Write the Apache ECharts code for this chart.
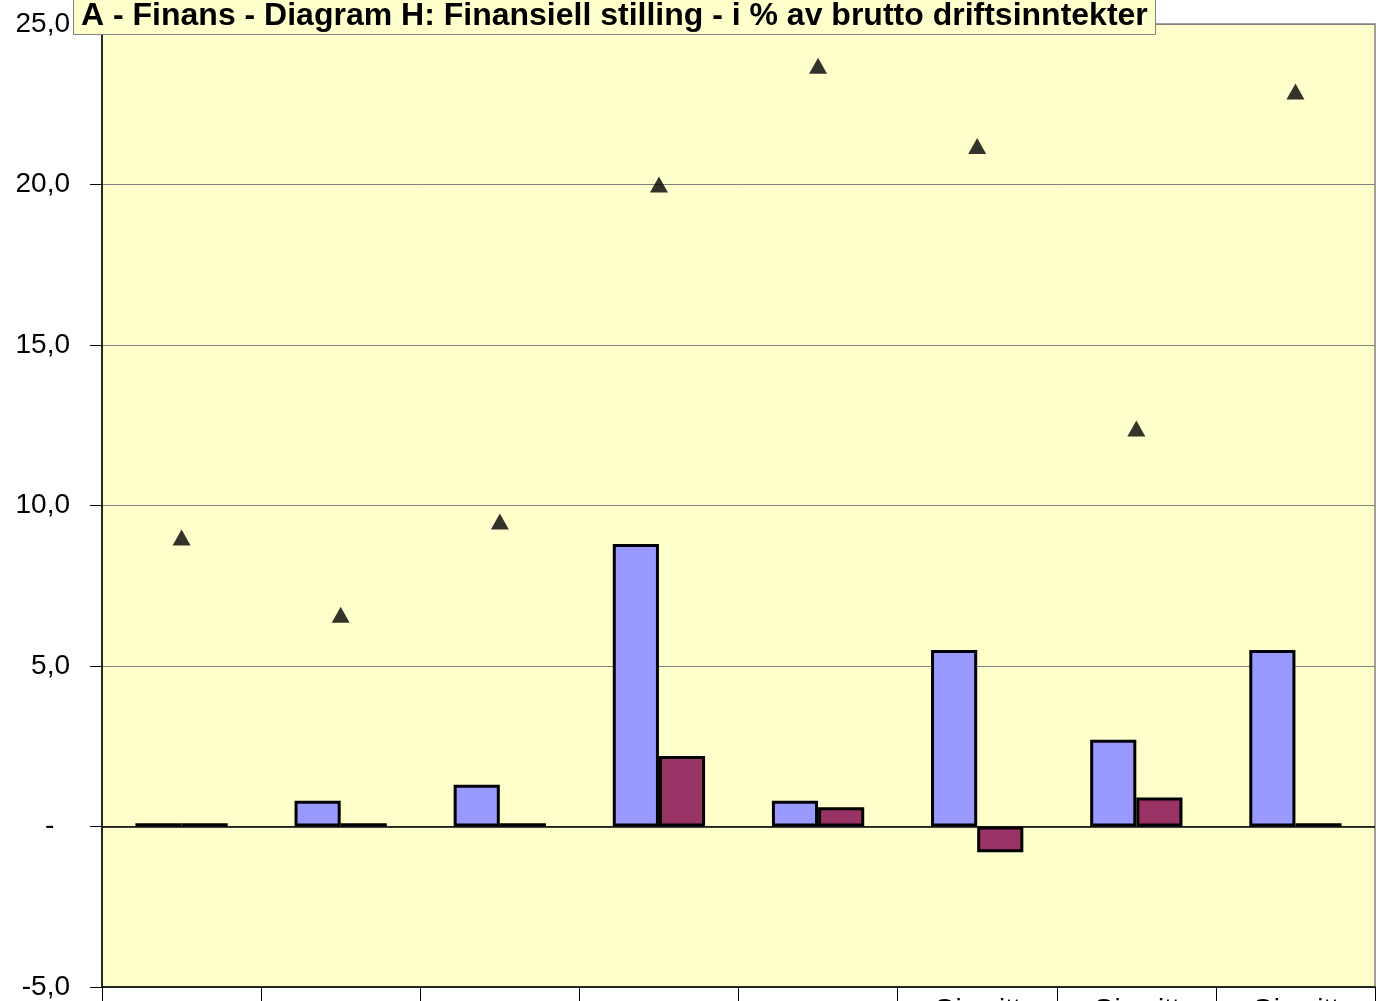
<!DOCTYPE html>
<html>
<head>
<meta charset="utf-8">
<style>
	html, body { margin: 0; padding: 0; background: #fff; }
	#chart { width: 1376px; height: 1001px; }
</style>
<script src="https://cdn.jsdelivr.net/npm/echarts@6/dist/echarts.min.js"></script>
</head>
<body>
<div id="chart"></div>
<script>
	// kategorier (bare de tre siste har synlig tekst nederst)
	const categories = ['', '', '', '', '', 'Gj.snitt', 'Gj.snitt', 'Gj.snitt'];
	const blueBars = [0.1, 0.8, 1.3, 8.8, 0.8, 5.5, 2.7, 5.5];
	const redBars = [0.1, 0.1, 0.1, 2.2, 0.6, -0.8, 0.9, 0.1];
	const triangles = [9.0, 6.6, 9.5, 20.0, 23.7, 21.2, 12.4, 22.9];
	const yTicks = [-5, 0, 5, 10, 15, 20, 25];

	const font = 'Liberation Sans, Arial, sans-serif';
	let chart = echarts.init(document.getElementById('chart'));
	const option = {
		animation: false,
		title: {
			text: 'A - Finans - Diagram H: Finansiell stilling - i % av brutto driftsinntekter',
			left: 73,
			top: -3,
			padding: [0, 8, 0, 8],
			backgroundColor: '#FFFFCC',
			borderColor: '#808080',
			borderWidth: 1,
			textStyle: {
				fontFamily: font,
				fontWeight: 'bold',
				fontSize: 32,
				lineHeight: 38,
				color: '#000'
			}
		},
		grid: {
			left: 102,
			right: 1,
			top: 24,
			bottom: 14,
			outerBoundsMode: 'none',
			show: true,
			backgroundColor: '#FFFFCC',
			borderColor: '#808080',
			borderWidth: 1.5
		},
		xAxis: {
			type: 'category',
			data: categories,
			axisLine: { onZero: false, lineStyle: { color: '#000', width: 1.5 } },
			axisTick: { show: true, length: 14, lineStyle: { color: '#000', width: 1 } },
			axisLabel: {
				fontFamily: font,
				fontSize: 28,
				color: '#000',
				margin: 9,
				interval: 0
			},
			splitLine: { show: false }
		},
		yAxis: {
			type: 'value',
			min: yTicks[0],
			max: yTicks[yTicks.length - 1],
			interval: 5,
			axisLine: { show: true, lineStyle: { color: '#000', width: 1.5 } },
			axisTick: { show: true, length: 12, lineStyle: { color: '#000', width: 1 } },
			axisLabel: {
				fontFamily: font,
				fontSize: 28,
				color: '#000',
				margin: 32,
				formatter: v => v === 0 ? '-  ' : v.toFixed(1).replace('.', ',')
			},
			splitLine: { show: true, lineStyle: { color: '#808080', width: 1 } }
		},
		series: [
			{
				type: 'bar',
				data: blueBars,
				barGap: '0%',
				barCategoryGap: '42%',
				itemStyle: { color: '#9999FF', borderColor: '#000', borderWidth: 3 },
				markLine: {
					silent: true,
					symbol: 'none',
					label: { show: false },
					lineStyle: { color: '#000', width: 1.5, type: 'solid' },
					data: [{ yAxis: 0 }]
				}
			},
			{
				type: 'bar',
				data: redBars,
				itemStyle: { color: '#993366', borderColor: '#000', borderWidth: 3 }
			},
			{
				type: 'scatter',
				data: triangles,
				symbol: 'triangle',
				symbolSize: [18, 16],
				itemStyle: { color: '#000' },
				z: 5
			}
		]
	};
	chart.setOption(option);
</script>
</body>
</html>
